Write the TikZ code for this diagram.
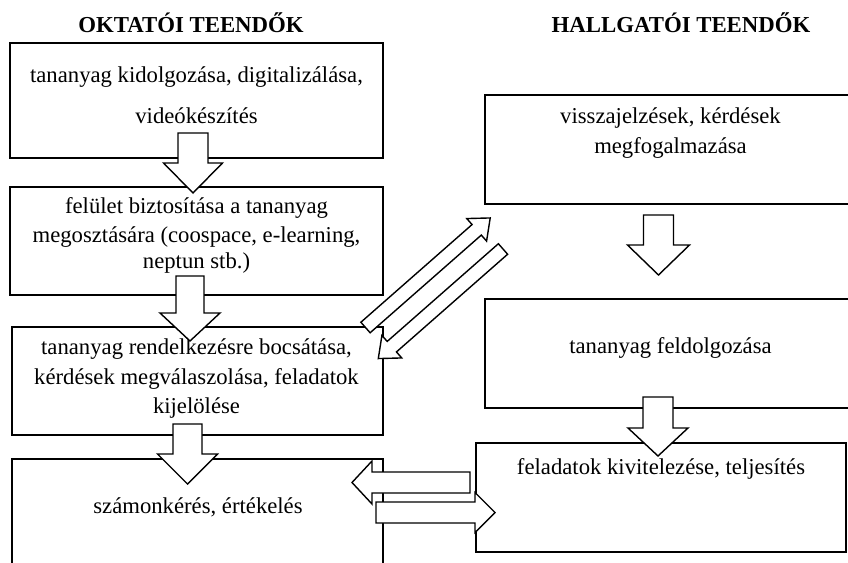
\documentclass[tikz,border=0pt]{standalone}
\usepackage{fontspec}
\setmainfont{Liberation Serif}
\tikzset{
  box/.style={draw=black, line width=1.6pt, fill=white, rectangle, inner sep=0pt},
  txt/.style={anchor=base, inner sep=0pt, font=\fontsize{22.7}{28}\selectfont},
  ttl/.style={anchor=base, inner sep=0pt, font=\fontsize{22.8}{28}\selectfont\bfseries},
  arrowshape/.style={draw=black, line width=1.4pt, fill=white, line join=miter},
  pics/barrow/.style n args={4}{code={
    \draw[arrowshape] (0,-#2) -- ({#1-#4},-#2) -- ({#1-#4},-#3) -- (#1,0)
      -- ({#1-#4},#3) -- ({#1-#4},#2) -- (0,#2) -- cycle;
  }}
}
\begin{document}
\begin{tikzpicture}[x=1pt,y=-1pt]
\useasboundingbox (0,0) rectangle (848,562);
\clip (0,0) rectangle (848,562);

% titles
\node[ttl] (title1) at (191,32.5) {OKTATÓI TEENDŐK};
\node[ttl] (title2) at (681,32.5) {HALLGATÓI TEENDŐK};

% left boxes
\node[box, minimum width=373pt, minimum height=115pt] (b1) at (196.5,100.5) {};
\node[box, minimum width=373pt, minimum height=108pt] (b2) at (196.5,241) {};
\node[box, minimum width=371pt, minimum height=108pt] (b3) at (197.5,381) {};
\node[box, minimum width=371pt, minimum height=141pt] (b4) at (197.5,529.5) {};

% right boxes
\node[box, minimum width=371pt, minimum height=109pt] (r1) at (670.5,149.5) {};
\node[box, minimum width=371pt, minimum height=109pt] (r2) at (670.5,353.5) {};
\node[box, minimum width=370pt, minimum height=109pt] (r3) at (661,497.5) {};

% texts
\node[txt] (t1a) at (196.5,82) {tananyag kidolgozása, digitalizálása,};
\node[txt] (t1b) at (196.5,123) {videókészítés};
\node[txt] (t2a) at (196.5,213.5) {felület biztosítása a tananyag};
\node[txt] (t2b) at (196.5,242) {megosztására (coospace, e-learning,};
\node[txt] (t2c) at (196.5,268.5) {neptun stb.)};
\node[txt] (t3a) at (196.5,354) {tananyag rendelkezésre bocsátása,};
\node[txt] (t3b) at (196.5,384) {kérdések megválaszolása, feladatok};
\node[txt] (t3c) at (196.5,413) {kijelölése};
\node[txt] (t4) at (198,513) {számonkérés, értékelés};
\node[txt] (tr1a) at (670.5,123) {visszajelzések, kérdések};
\node[txt] (tr1b) at (670.5,153) {megfogalmazása};
\node[txt] (tr2) at (670.5,353) {tananyag feldolgozása};
\node[txt] (tr3) at (661,474) {feladatok kivitelezése, teljesítés};

% vertical block arrows (left column)
\pic[rotate=-90] at (193,133) {barrow={60}{15}{29.5}{30}};
\pic[rotate=-90] at (190,276) {barrow={65}{14}{30}{28}};
\pic[rotate=-90] at (187.5,424) {barrow={60}{14.5}{30}{30}};

% vertical block arrows (right column)
\pic[rotate=-90] at (658.5,215) {barrow={60}{15}{31}{30}};
\pic[rotate=-90] at (658,397) {barrow={59}{15}{30}{28}};

% horizontal block arrows
\pic[rotate=180] at (470,482.5) {barrow={118}{10.5}{21.5}{20}};
\pic at (376,512.5) {barrow={119}{10.5}{20}{20}};

% diagonal block arrows
\pic[rotate=41.3] at (365.5,327.5) {barrow={166}{7}{15}{18}};
\pic[rotate=221.3] at (503,249) {barrow={166}{7}{15}{18}};
\end{tikzpicture}
\end{document}
